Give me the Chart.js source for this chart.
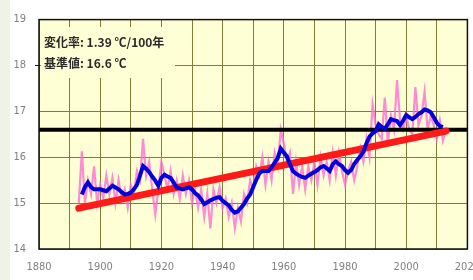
<!DOCTYPE html>
<html><head><meta charset="utf-8">
<script src="https://cdn.jsdelivr.net/npm/chart.js@4/dist/chart.umd.min.js"></script>
<style>
html,body{margin:0;padding:0;background:#fff;overflow:hidden;width:473px;height:280px;}
#strip{position:absolute;left:0;top:0;width:10px;height:280px;background:#eef2e8;}
#c{position:absolute;left:0;top:0;}
</style></head><body>
<div id="strip"></div>
<canvas id="c" width="492" height="280"></canvas>
<script>
// ---- data ----
const annualYears = [];
for (let y = 1893; y <= 2013; y++) annualYears.push(y);
const annualTemps = [
15.0,16.13,15.0,15.5,15.2,15.8,15.0,15.4,15.1,15.6,
15.2,15.55,15.0,15.5,15.1,15.3,14.9,15.4,15.2,15.7,
15.5,16.4,15.6,15.9,15.3,14.75,15.3,15.9,15.6,15.3,
15.7,15.2,15.5,15.1,15.6,15.2,15.5,15.0,15.3,14.9,
15.3,14.7,15.2,14.45,15.3,15.0,15.35,14.9,15.1,14.7,
15.0,14.45,14.9,14.6,15.2,15.0,15.5,15.3,15.8,15.6,
16.0,15.4,15.9,15.5,16.1,15.8,16.6,16.3,15.9,16.1,
15.2,15.9,15.4,15.8,15.3,15.8,15.5,15.9,15.4,16.0,
15.6,15.9,15.5,16.1,15.6,16.1,15.7,15.4,15.7,15.9,
15.5,15.8,16.2,15.9,16.4,16.0,17.15,16.7,16.5,16.4,
17.3,16.3,16.9,16.6,17.68,16.8,16.6,16.9,16.6,16.5,
17.53,16.7,16.9,17.43,16.6,16.9,16.7,16.4,16.8,16.36,
16.6];
const meanYears = [];
for (let y = 1894; y <= 2012; y++) meanYears.push(y);
const meanTemps = [
15.19,15.35,15.45,15.35,15.30,15.30,15.30,15.28,15.26,15.32,
15.38,15.34,15.30,15.24,15.19,15.20,15.23,15.30,15.40,15.60,
15.81,15.75,15.68,15.58,15.49,15.38,15.55,15.62,15.58,15.55,
15.45,15.34,15.32,15.30,15.32,15.34,15.30,15.22,15.17,15.08,
14.98,15.02,15.06,15.09,15.12,15.13,15.05,15.00,14.95,14.85,
14.79,14.82,14.90,14.98,15.10,15.19,15.35,15.51,15.65,15.70,
15.70,15.70,15.78,15.88,15.98,16.19,16.10,16.02,15.85,15.70,
15.64,15.60,15.57,15.55,15.60,15.64,15.68,15.72,15.78,15.81,
15.76,15.70,15.85,15.91,15.85,15.81,15.72,15.66,15.72,15.85,
15.94,16.02,16.12,16.30,16.45,16.52,16.57,16.72,16.66,16.62,
16.72,16.83,16.81,16.79,16.70,16.80,16.92,16.87,16.83,16.88,
16.94,16.98,17.04,17.02,16.98,16.87,16.75,16.68,16.66];
const trendYears = [1893, 2013];
const trendTemps = [14.89, 16.57];
const baseYears = [1880, 2020];
const baseValue = 16.6;
const xTicks = [1880, 1900, 1920, 1940, 1960, 1980, 2000, 2020];
const yTicks = [14, 15, 16, 17, 18, 19];
const noteLines = ['変化率: 1.39 ℃/100年', '基準値: 16.6 ℃'];

const zip = (xs, ys) => xs.map((x, i) => ({x: x, y: ys[i]}));
const TICKFONT = {family: "'Liberation Sans Narrow','DejaVu Sans Condensed',sans-serif", size: 11};

const bgPlugin = {
  id: 'bg',
  beforeDraw(chart) {
    const {ctx, chartArea: a} = chart;
    ctx.save();
    ctx.fillStyle = '#ffffd6';
    ctx.fillRect(a.left, a.top, a.right - a.left, a.bottom - a.top);
    ctx.restore();
  },
  beforeDatasetsDraw(chart) {
    const {ctx, chartArea: a} = chart;
    ctx.save();
    ctx.fillStyle = '#ffffd6';
    ctx.fillRect(a.left + 2, 27, 175 - a.left - 2, 51);
    ctx.fillStyle = '#2a2a2a';
    ctx.font = "bold 12px 'Noto Sans CJK JP', sans-serif";
    ctx.textBaseline = 'middle';
    ctx.fillText(noteLines[0], 44, 42);
    ctx.fillText(noteLines[1], 44, 63);
    ctx.restore();
  },
  afterDraw(chart) {
    const {ctx, chartArea: a} = chart;
    ctx.save();
    ctx.strokeStyle = '#111';
    ctx.lineWidth = 1.5;
    ctx.strokeRect(a.left, a.top, a.right - a.left, a.bottom - a.top);
    ctx.beginPath();
    const y18 = chart.scales.y.getPixelForValue(18);
    ctx.lineWidth = 1;
    ctx.moveTo(a.left - 4, y18); ctx.lineTo(a.left, y18);
    ctx.stroke();
    ctx.restore();
  }
};

new Chart(document.getElementById('c'), {
  type: 'line',
  data: {
    datasets: [
      {label: 'mean', data: zip(meanYears, meanTemps), borderColor: '#0000dd', borderWidth: 4, pointRadius: 0, tension: 0, order: 0},
      {label: 'trend', data: zip(trendYears, trendTemps), borderColor: '#ff1a1a', borderWidth: 7, borderCapStyle: 'round', pointRadius: 0, order: 1},
      {label: 'base', data: zip(baseYears, [baseValue, baseValue]), borderColor: '#000', borderWidth: 4, pointRadius: 0, order: 2},
      {label: 'annual', data: zip(annualYears, annualTemps), borderColor: 'rgba(255,110,210,0.8)', borderWidth: 2.2, pointRadius: 0, tension: 0, order: 3}
    ]
  },
  options: {
    responsive: false,
    animation: false,
    events: [],
    layout: {padding: {top: 13, right: 21, left: 0, bottom: 0}},
    plugins: {legend: {display: false}, tooltip: {enabled: false}},
    scales: {
      x: {
        type: 'linear', min: 1880, max: 2020,
        afterFit(s) { s.height = 31; },
        afterBuildTicks(s) { const t = []; for (let v = 1880; v <= 2020; v += 10) t.push({value: v}); s.ticks = t; },
        ticks: {autoSkip: false, maxRotation: 0, padding: 12, color: '#808080', font: TICKFONT,
          callback: v => xTicks.includes(v) ? String(v) : ''},
        grid: {color: '#7e7e34', lineWidth: 1, drawTicks: false},
        border: {display: false}
      },
      y: {
        min: 14, max: 19,
        afterFit(s) { s.width = 39; },
        afterBuildTicks(s) { s.ticks = yTicks.map(v => ({value: v})); },
        ticks: {padding: 13, color: '#808080', font: TICKFONT},
        grid: {color: '#7e7e34', lineWidth: 1, drawTicks: false},
        border: {display: false}
      }
    }
  },
  plugins: [bgPlugin]
});
</script>
</body></html>
